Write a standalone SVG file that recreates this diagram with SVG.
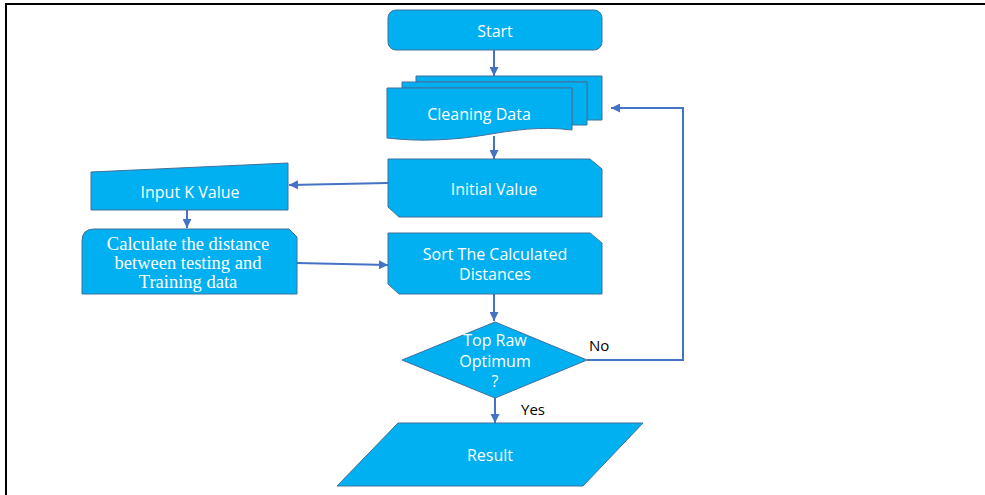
<svg xmlns="http://www.w3.org/2000/svg" width="985" height="495" viewBox="0 0 985 495">
<style>
.n{fill:#00B0F0;stroke:#41719C;stroke-width:1}
.t{font-family:"Open Sans","Noto Sans",sans-serif;font-size:16px;fill:#fff;text-anchor:middle}
.s{font-family:"Liberation Serif","Times New Roman",serif;font-size:18.5px;fill:#fff;text-anchor:middle}
.l{font-family:"Open Sans","Noto Sans",sans-serif;font-size:15px;fill:#000}
.c{fill:none;stroke:#4472C4;stroke-width:2}
</style>
<defs>
<marker id="a" viewBox="0 0 10 10" refX="10" refY="5" markerWidth="9" markerHeight="9" markerUnits="userSpaceOnUse" orient="auto">
<path d="M0,0 L10,5 L0,10 z" fill="#4472C4"/>
</marker>
</defs>
<rect width="985" height="495" fill="#fff"/>
<g id="frame">
<line x1="5" y1="4" x2="985" y2="4" stroke="#000" stroke-width="2"/>
<line x1="6" y1="4" x2="6" y2="495" stroke="#000" stroke-width="2"/>
</g>
<g id="connectors">
<line class="c" x1="494" y1="50" x2="494" y2="76" marker-end="url(#a)"/>
<line class="c" x1="494" y1="136" x2="494" y2="159" marker-end="url(#a)"/>
<line class="c" x1="388" y1="183" x2="289" y2="185" marker-end="url(#a)"/>
<line class="c" x1="187" y1="210" x2="187" y2="228" marker-end="url(#a)"/>
<line class="c" x1="297" y1="263" x2="388" y2="265" marker-end="url(#a)"/>
<line class="c" x1="494" y1="294" x2="494" y2="321" marker-end="url(#a)"/>
<line class="c" x1="495" y1="398" x2="495" y2="423" marker-end="url(#a)"/>
<polyline class="c" points="587,360 683,360 683,108 611,108" marker-end="url(#a)"/>
</g>
<g id="start">
<rect class="n" x="388" y="10" width="214" height="40" rx="8"/>
<text class="t" x="495" y="37">Start</text>
</g>
<g id="cleaning">
<path class="n" d="M416,76 H602 V120 H587 V82 H416 Z"/>
<path class="n" d="M402,82 H587 V125 H572 V88 H402 Z"/>
<path class="n" d="M387,88 H572 V130 C540,126 515,130 485,135 C455,140 420,142 387,138 Z"/>
<text class="t" x="479" y="120">Cleaning Data</text>
</g>
<g id="initial">
<path class="n" d="M388,159 H590 L602,169 V217 H399 L388,207 Z"/>
<text class="t" x="494" y="195">Initial Value</text>
</g>
<g id="inputk">
<path class="n" d="M91,172 L288,163 V210 H91 Z"/>
<text class="t" x="190" y="198">Input K Value</text>
</g>
<g id="calculate">
<path class="n" d="M94,229 H289 L297,237 V294 H82 V241 Q82,229 94,229 Z"/>
<text class="s" x="188" y="250">Calculate the distance</text>
<text class="s" x="188" y="269">between testing and</text>
<text class="s" x="188" y="288">Training data</text>
</g>
<g id="sort">
<path class="n" d="M388,233 H590 L602,243 V294 H399 L388,284 Z"/>
<text class="t" x="495" y="260">Sort The Calculated</text>
<text class="t" x="495" y="280">Distances</text>
</g>
<g id="decision">
<path class="n" d="M495,322 L587,360 L495,398 L402,360 Z"/>
<text class="t" x="495" y="346">Top Raw</text>
<text class="t" x="495" y="367">Optimum</text>
<text class="t" x="495" y="387">?</text>
</g>
<text class="l" x="589" y="351">No</text>
<text class="l" x="521" y="415">Yes</text>
<g id="result">
<path class="n" d="M398,423 H643 L583,486 H337 Z"/>
<text class="t" x="490" y="461">Result</text>
</g>
</svg>
